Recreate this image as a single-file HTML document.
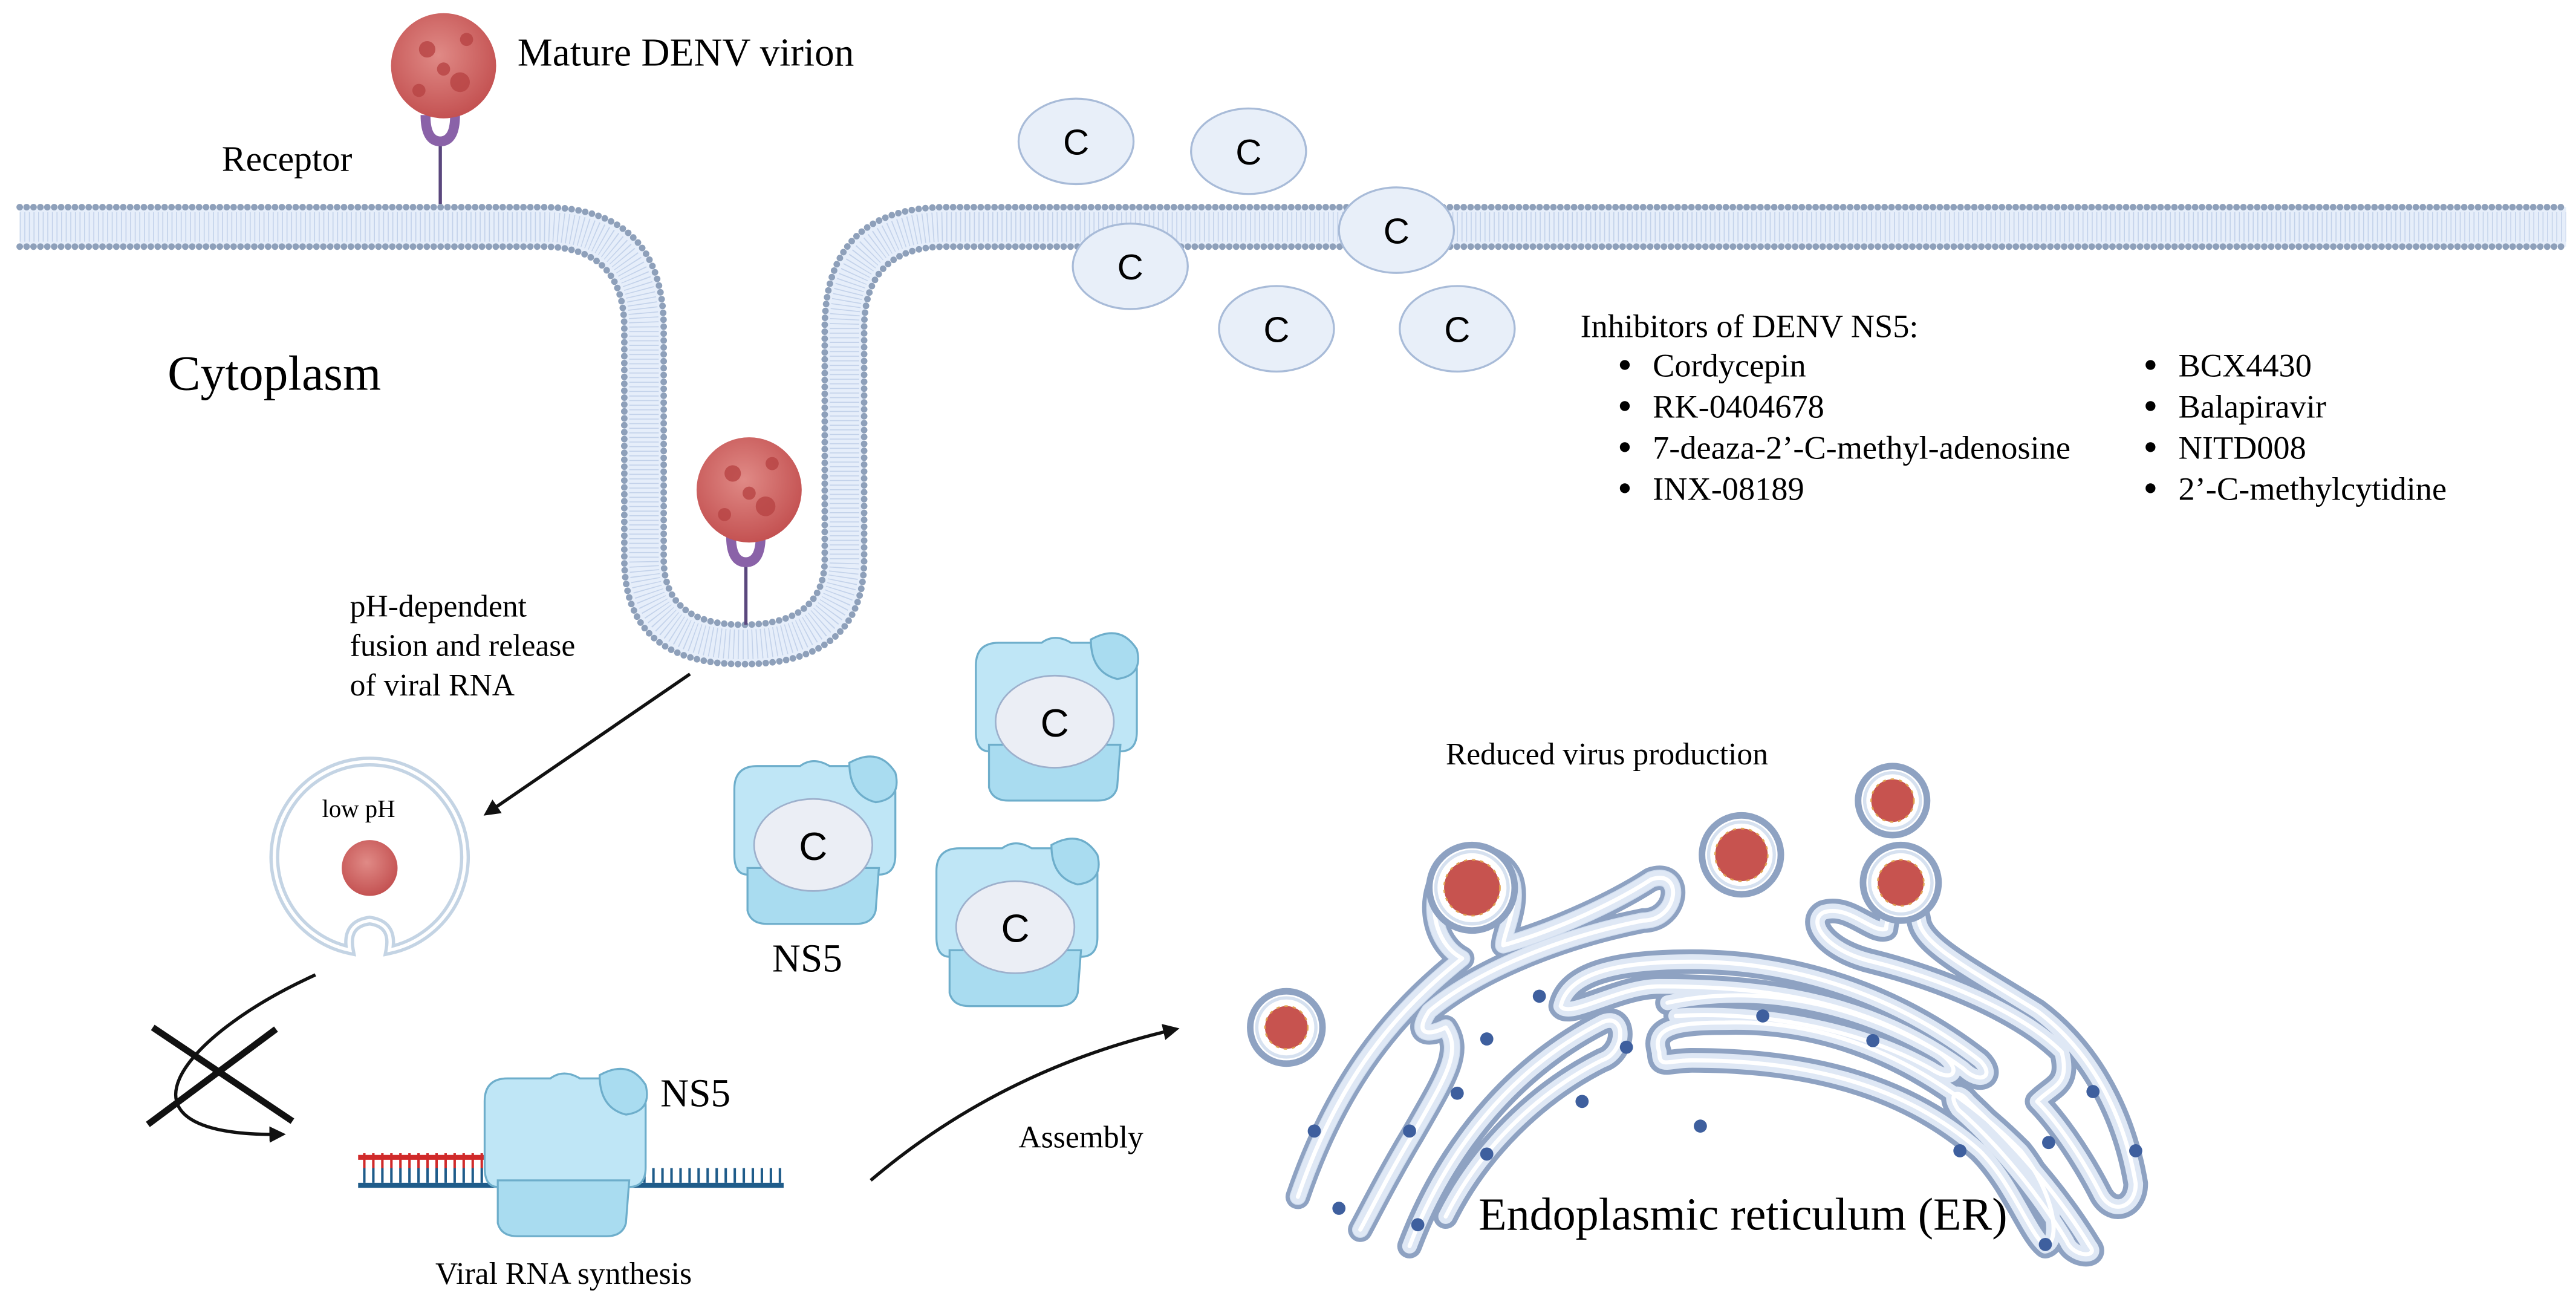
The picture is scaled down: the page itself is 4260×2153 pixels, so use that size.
<!DOCTYPE html>
<html><head><meta charset="utf-8"><style>
html,body{margin:0;padding:0;background:#fff;}
svg{display:block}
text{font-family:"Liberation Serif",serif;fill:#000}
.s{font-family:"Liberation Sans",sans-serif}
</style></head><body>
<svg width="4260" height="2153" viewBox="0 0 1568 792" preserveAspectRatio="none" xmlns="http://www.w3.org/2000/svg">
<defs>
<radialGradient id="vg" cx="45%" cy="40%" r="60%"><stop offset="0" stop-color="#e08a86"/><stop offset="1" stop-color="#c45252"/></radialGradient>
<marker id="ah" markerWidth="10" markerHeight="10" refX="8" refY="5" orient="auto" markerUnits="userSpaceOnUse"><path d="M0,0 L10,5 L0,10 z" fill="#111"/></marker>
<g id="vir">
<circle r="1" fill="url(#vg)"/>
</g>
<g id="ns5">
<path d="M-48,-30 Q-48,-44 -34,-44 L-8,-44 Q0,-50 10,-44 L30,-44 Q50,-46 50,-28 L50,10 Q50,22 40,22 L-40,22 Q-48,22 -48,10 Z" fill="#bfe6f6" stroke="#6eaecb" stroke-width="1.2"/>
<path d="M22,-46 Q40,-56 50,-40 Q54,-24 38,-22 Q22,-26 22,-46Z" fill="#a9dcf0" stroke="#6eaecb" stroke-width="1.2"/>
<path d="M-40,18 L40,18 L38,44 Q36,52 26,52 L-28,52 Q-38,52 -40,44 Z" fill="#a9dcf0" stroke="#6eaecb" stroke-width="1.2"/>
<ellipse cx="0" cy="4" rx="36" ry="28" fill="#ebeef5" stroke="#9db0cc" stroke-width="1"/>
<text x="0" y="13" text-anchor="middle" class="s" font-size="24">C</text>
</g>
<g id="cc"><ellipse rx="35" ry="26" fill="#e8eff9" stroke="#a8bbd8" stroke-width="1.2"/><text x="0" y="8" text-anchor="middle" class="s" font-size="22">C</text></g>
</defs>

<!-- membrane -->
<path d="M12,138 H330 Q392,138 392,200 V340 Q392,392 452,392 Q514,392 514,340 V200 Q514,138 576,138 H1562" fill="none" stroke="#e6eefa" stroke-width="24"/>
<path d="M12,138 H330 Q392,138 392,200 V340 Q392,392 452,392 Q514,392 514,340 V200 Q514,138 576,138 H1562" fill="none" stroke="#c3d2ea" stroke-width="18" stroke-dasharray="0.6 2.2"/>
<path d="M12,126 H330 Q404,126 404,200 V340 Q404,380 452,380 Q502,380 502,340 V200 Q502,126 576,126 H1562" fill="none" stroke="#8ea0ba" stroke-width="4" stroke-linecap="round" stroke-dasharray="0 4.2"/>
<path d="M12,150 H330 Q380,150 380,200 V340 Q380,404 452,404 Q526,404 526,340 V200 Q526,150 576,150 H1562" fill="none" stroke="#8ea0ba" stroke-width="4" stroke-linecap="round" stroke-dasharray="0 4.2"/>

<!-- receptors & virions -->
<line x1="268" y1="86" x2="268" y2="124" stroke="#5a477d" stroke-width="2"/>
<path d="M259,70 Q259,86 268,86 Q277,86 277,70" fill="none" stroke="#8a62a8" stroke-width="6"/>
<circle cx="270" cy="40" r="32" fill="url(#vg)"/>
<g fill="#b84444" opacity="0.8"><circle cx="260" cy="30" r="5"/><circle cx="280" cy="50" r="6"/><circle cx="255" cy="55" r="4"/><circle cx="284" cy="24" r="4"/><circle cx="270" cy="42" r="4"/></g>
<line x1="454" y1="342" x2="454" y2="380" stroke="#5a477d" stroke-width="2"/>
<path d="M445,326 Q445,342 454,342 Q463,342 463,326" fill="none" stroke="#8a62a8" stroke-width="6"/>
<circle cx="456" cy="298" r="32" fill="url(#vg)"/>
<g fill="#b84444" opacity="0.8"><circle cx="446" cy="288" r="5"/><circle cx="466" cy="308" r="6"/><circle cx="441" cy="313" r="4"/><circle cx="470" cy="282" r="4"/><circle cx="456" cy="300" r="4"/></g>

<text x="315" y="40" font-size="24">Mature DENV virion</text>
<text x="135" y="104" font-size="22">Receptor</text>
<text x="102" y="237" font-size="30">Cytoplasm</text>

<!-- C -->
<use href="#cc" x="655" y="86"/><use href="#cc" x="760" y="92"/><use href="#cc" x="850" y="140"/>
<use href="#cc" x="688" y="162"/><use href="#cc" x="777" y="200"/><use href="#cc" x="887" y="200"/>

<text x="962" y="205" font-size="20">Inhibitors of DENV NS5:</text>
<g font-size="20">
<circle cx="989" cy="222" r="3"/><text x="1006" y="229">Cordycepin</text>
<circle cx="989" cy="247" r="3"/><text x="1006" y="254">RK-0404678</text>
<circle cx="989" cy="272" r="3"/><text x="1006" y="279">7-deaza-2’-C-methyl-adenosine</text>
<circle cx="989" cy="297" r="3"/><text x="1006" y="304">INX-08189</text>
<circle cx="1309" cy="222" r="3"/><text x="1326" y="229">BCX4430</text>
<circle cx="1309" cy="247" r="3"/><text x="1326" y="254">Balapiravir</text>
<circle cx="1309" cy="272" r="3"/><text x="1326" y="279">NITD008</text>
<circle cx="1309" cy="297" r="3"/><text x="1326" y="304">2’-C-methylcytidine</text>
</g>

<text font-size="19"><tspan x="213" y="375">pH-dependent</tspan><tspan x="213" y="399">fusion and release</tspan><tspan x="213" y="423">of viral RNA</tspan></text>
<line x1="420" y1="410" x2="296" y2="495" stroke="#111" stroke-width="2" marker-end="url(#ah)"/>

<!-- low pH vesicle -->
<path d="M213,578 A58,58 0 1 1 237,578 Q240,562 225,560 Q210,562 213,578Z" fill="#fff" stroke="#c4d4e4" stroke-width="6"/>
<path d="M213,578 A58,58 0 1 1 237,578 Q240,562 225,560 Q210,562 213,578Z" fill="none" stroke="#fff" stroke-width="2"/>
<circle cx="225" cy="528" r="17" fill="url(#vg)"/>
<text x="196" y="497" font-size="15">low pH</text>

<path d="M192,593 C110,630 60,692 172,690" fill="none" stroke="#111" stroke-width="2" marker-end="url(#ah)"/>
<line x1="93" y1="625" x2="178" y2="682" stroke="#111" stroke-width="4"/>
<line x1="90" y1="684" x2="168" y2="626" stroke="#111" stroke-width="4"/>

<!-- RNA -->
<line x1="218" y1="704" x2="320" y2="704" stroke="#d02a2a" stroke-width="3"/>
<line x1="221" y1="706" x2="320" y2="706" stroke="#d02a2a" stroke-width="9" stroke-dasharray="1.5 4"/>
<line x1="218" y1="721" x2="477" y2="721" stroke="#1f5c8a" stroke-width="3"/>
<line x1="221" y1="715" x2="477" y2="715" stroke="#1f5c8a" stroke-width="9" stroke-dasharray="1.5 4"/>
<g transform="translate(343,700)">
<path d="M-48,-30 Q-48,-44 -34,-44 L-8,-44 Q0,-50 10,-44 L30,-44 Q50,-46 50,-28 L50,10 Q50,22 40,22 L-40,22 Q-48,22 -48,10 Z" fill="#bfe6f6" stroke="#6eaecb" stroke-width="1.2"/>
<path d="M22,-46 Q40,-56 50,-40 Q54,-24 38,-22 Q22,-26 22,-46Z" fill="#a9dcf0" stroke="#6eaecb" stroke-width="1.2"/>
<path d="M-40,18 L40,18 L38,44 Q36,52 26,52 L-28,52 Q-38,52 -40,44 Z" fill="#a9dcf0" stroke="#6eaecb" stroke-width="1.2"/>
</g>
<text x="402" y="673" font-size="24">NS5</text>
<text x="265" y="781" font-size="19">Viral RNA synthesis</text>

<path d="M530,718 Q610,650 716,626" fill="none" stroke="#111" stroke-width="2" marker-end="url(#ah)"/>
<text x="620" y="698" font-size="19">Assembly</text>

<use href="#ns5" x="495" y="510"/>
<use href="#ns5" x="642" y="435"/>
<use href="#ns5" x="618" y="560"/>
<text x="470" y="591" font-size="24">NS5</text>

<text x="880" y="465" font-size="19">Reduced virus production</text>

<!-- ER -->
<g fill="none" stroke-linecap="round" stroke-linejoin="round">
<g stroke="#8ea2c2" stroke-width="15">
<path id="e1" d="M790,728 C815,655 850,615 890,583 C875,575 870,555 875,540 C880,518 912,515 920,535 C925,550 915,568 915,575 C950,565 985,548 1005,535 C1025,528 1022,560 1000,560 C950,570 900,590 870,615 C860,630 870,630 880,625 C890,640 880,655 860,690 C845,715 835,735 828,748"/>
<path d="M858,758 C880,700 920,650 975,622 C990,615 990,640 975,645 C935,665 900,700 880,740"/>
<path d="M950,612 C955,590 990,585 1030,585 C1100,585 1160,610 1205,645 C1215,655 1205,660 1195,650 C1140,610 1080,600 1010,600 C985,600 955,620 950,612"/>
<path d="M1010,640 C1005,625 1020,622 1050,622 C1120,620 1180,650 1230,700 C1250,725 1255,755 1245,758 C1235,750 1225,720 1205,700 C1160,660 1100,645 1030,645 C1015,645 1010,650 1010,640"/>
<path d="M1015,610 C1060,600 1120,605 1180,640 C1195,650 1190,660 1175,650 C1130,625 1070,615 1020,618"/>
<path d="M1148,565 C1150,545 1165,540 1168,560 C1170,575 1200,590 1240,615 C1280,645 1295,690 1300,720 C1300,735 1285,740 1278,725 C1265,700 1250,680 1240,670 C1250,660 1260,660 1255,640 C1230,615 1180,595 1140,585 C1110,578 1100,560 1110,555 C1125,550 1140,568 1148,565"/>
<path d="M1198,670 C1230,700 1255,730 1272,758 C1278,765 1262,765 1258,755 C1240,725 1215,695 1192,675 C1185,665 1192,662 1198,670"/>
</g>
<g stroke="#cfdcee" stroke-width="10">
<use href="#e1"/>
</g>
</g>
<g fill="none" stroke="#dfe8f5" stroke-width="9" stroke-linecap="round" stroke-linejoin="round">
<path d="M790,728 C815,655 850,615 890,583 C875,575 870,555 875,540 C880,518 912,515 920,535 C925,550 915,568 915,575 C950,565 985,548 1005,535 C1025,528 1022,560 1000,560 C950,570 900,590 870,615 C860,630 870,630 880,625 C890,640 880,655 860,690 C845,715 835,735 828,748"/>
<path d="M858,758 C880,700 920,650 975,622 C990,615 990,640 975,645 C935,665 900,700 880,740"/>
<path d="M950,612 C955,590 990,585 1030,585 C1100,585 1160,610 1205,645 C1215,655 1205,660 1195,650 C1140,610 1080,600 1010,600 C985,600 955,620 950,612"/>
<path d="M1010,640 C1005,625 1020,622 1050,622 C1120,620 1180,650 1230,700 C1250,725 1255,755 1245,758 C1235,750 1225,720 1205,700 C1160,660 1100,645 1030,645 C1015,645 1010,650 1010,640"/>
<path d="M1015,610 C1060,600 1120,605 1180,640 C1195,650 1190,660 1175,650 C1130,625 1070,615 1020,618"/>
<path d="M1148,565 C1150,545 1165,540 1168,560 C1170,575 1200,590 1240,615 C1280,645 1295,690 1300,720 C1300,735 1285,740 1278,725 C1265,700 1250,680 1240,670 C1250,660 1260,660 1255,640 C1230,615 1180,595 1140,585 C1110,578 1100,560 1110,555 C1125,550 1140,568 1148,565"/>
<path d="M1198,670 C1230,700 1255,730 1272,758 C1278,765 1262,765 1258,755 C1240,725 1215,695 1192,675 C1185,665 1192,662 1198,670"/>
</g>
<g fill="none" stroke="#fff" stroke-width="2.5" stroke-linecap="round" stroke-linejoin="round">
<path d="M790,728 C815,655 850,615 890,583 C875,575 870,555 875,540 C880,518 912,515 920,535 C925,550 915,568 915,575 C950,565 985,548 1005,535 C1025,528 1022,560 1000,560 C950,570 900,590 870,615 C860,630 870,630 880,625 C890,640 880,655 860,690 C845,715 835,735 828,748"/>
<path d="M858,758 C880,700 920,650 975,622 C990,615 990,640 975,645 C935,665 900,700 880,740"/>
<path d="M950,612 C955,590 990,585 1030,585 C1100,585 1160,610 1205,645 C1215,655 1205,660 1195,650 C1140,610 1080,600 1010,600 C985,600 955,620 950,612"/>
<path d="M1010,640 C1005,625 1020,622 1050,622 C1120,620 1180,650 1230,700 C1250,725 1255,755 1245,758 C1235,750 1225,720 1205,700 C1160,660 1100,645 1030,645 C1015,645 1010,650 1010,640"/>
<path d="M1015,610 C1060,600 1120,605 1180,640 C1195,650 1190,660 1175,650 C1130,625 1070,615 1020,618"/>
<path d="M1148,565 C1150,545 1165,540 1168,560 C1170,575 1200,590 1240,615 C1280,645 1295,690 1300,720 C1300,735 1285,740 1278,725 C1265,700 1250,680 1240,670 C1250,660 1260,660 1255,640 C1230,615 1180,595 1140,585 C1110,578 1100,560 1110,555 C1125,550 1140,568 1148,565"/>
<path d="M1198,670 C1230,700 1255,730 1272,758 C1278,765 1262,765 1258,755 C1240,725 1215,695 1192,675 C1185,665 1192,662 1198,670"/>
</g>
<!-- buds / vesicles -->
<g fill="#fff" stroke="#8ea2c2" stroke-width="4">
<circle cx="896" cy="540" r="26"/>
<circle cx="783" cy="625" r="22"/>
<circle cx="1060" cy="520" r="24"/>
<circle cx="1152" cy="487" r="21"/>
<circle cx="1157" cy="537" r="23"/>
</g>
<g fill="none" stroke="#d6e1f0" stroke-width="2">
<circle cx="896" cy="540" r="22"/><circle cx="783" cy="625" r="18"/><circle cx="1060" cy="520" r="20"/><circle cx="1152" cy="487" r="17"/><circle cx="1157" cy="537" r="19"/>
</g>
<g fill="#c7534f" stroke="#e0a050" stroke-width="1" stroke-dasharray="2 3">
<circle cx="896" cy="540" r="17"/><circle cx="783" cy="625" r="13"/><circle cx="1060" cy="520" r="16"/><circle cx="1152" cy="487" r="13"/><circle cx="1157" cy="537" r="14"/>
</g>
<g fill="#3e5f9e">
<circle cx="937" cy="606" r="4"/><circle cx="905" cy="632" r="4"/><circle cx="858" cy="688" r="4"/><circle cx="800" cy="688" r="4"/><circle cx="815" cy="735" r="4"/><circle cx="887" cy="665" r="4"/><circle cx="963" cy="670" r="4"/><circle cx="990" cy="637" r="4"/><circle cx="1073" cy="618" r="4"/><circle cx="1140" cy="633" r="4"/><circle cx="1193" cy="700" r="4"/><circle cx="1247" cy="695" r="4"/><circle cx="1274" cy="664" r="4"/><circle cx="1300" cy="700" r="4"/><circle cx="1245" cy="757" r="4"/><circle cx="863" cy="745" r="4"/><circle cx="905" cy="702" r="4"/><circle cx="1035" cy="685" r="4"/>
</g>
<text x="900" y="748" font-size="28">Endoplasmic reticulum (ER)</text>
</svg>
</body></html>
